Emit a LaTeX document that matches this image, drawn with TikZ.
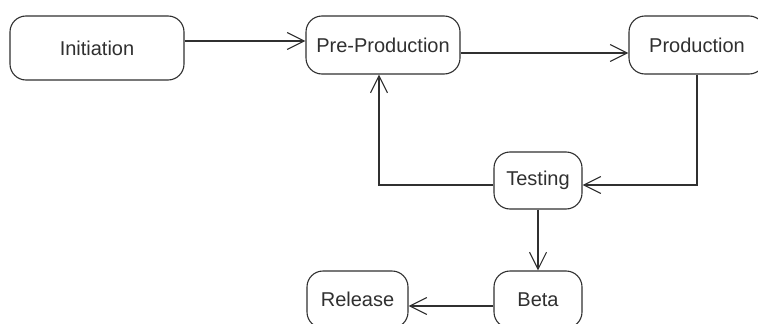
\documentclass[tikz,border=0pt]{standalone}
\usepackage{fontspec}
\setmainfont{Liberation Sans}
\usetikzlibrary{arrows.meta}
\definecolor{ink}{HTML}{303030}
\tikzset{
  state/.style={draw=ink, line width=1.1pt, rounded corners=16pt, text=ink,
    inner sep=0pt, font=\fontsize{20}{24}\selectfont},
  arr/.style={draw=ink, line width=1.1pt,
    -{Straight Barb[length=17pt,width=17pt,line width=1.1pt]}},
}
\begin{document}
\begin{tikzpicture}[x=1pt,y=-1pt]
\useasboundingbox (0,0) rectangle (758,324);
\clip (0,0) rectangle (758,324);
\fill[white] (0,0) rectangle (758,324);

% states
\node[state, minimum width=174pt, minimum height=64pt] (init) at (97,48) {Initiation};
\node[state, minimum width=154pt, minimum height=58pt] (pre) at (383,45) {Pre-Production};
\node[state, minimum width=136pt, minimum height=58pt] (prod) at (697,45) {Production};
\node[state, minimum width=88pt, minimum height=57pt] (test) at (538,180.5) {Testing};
\node[state, minimum width=88pt, minimum height=57pt] (beta) at (538,299.5) {Beta};
\node[state, minimum width=101pt, minimum height=57pt] (rel) at (357.5,299.5) {Release};

% transitions
\coordinate (a1) at ([yshift=7pt]init.east);
\draw[arr] (a1) -- (a1 -| pre.west);
\coordinate (a2) at ([yshift=-8pt]pre.east);
\draw[arr] (a2) -- (a2 -| prod.west);
\coordinate (a3) at ([yshift=-4.5pt]test.east);
\draw[arr] (prod.south) |- (a3);
\coordinate (a4) at ([yshift=-4.5pt]test.west);
\draw[arr] (a4) -| ([xshift=-4pt]pre.south);
\draw[arr] (test.south) -- (beta.north);
\coordinate (a5) at ([yshift=-6.5pt]beta.west);
\draw[arr] (a5) -- (a5 -| rel.east);
\end{tikzpicture}
\end{document}
